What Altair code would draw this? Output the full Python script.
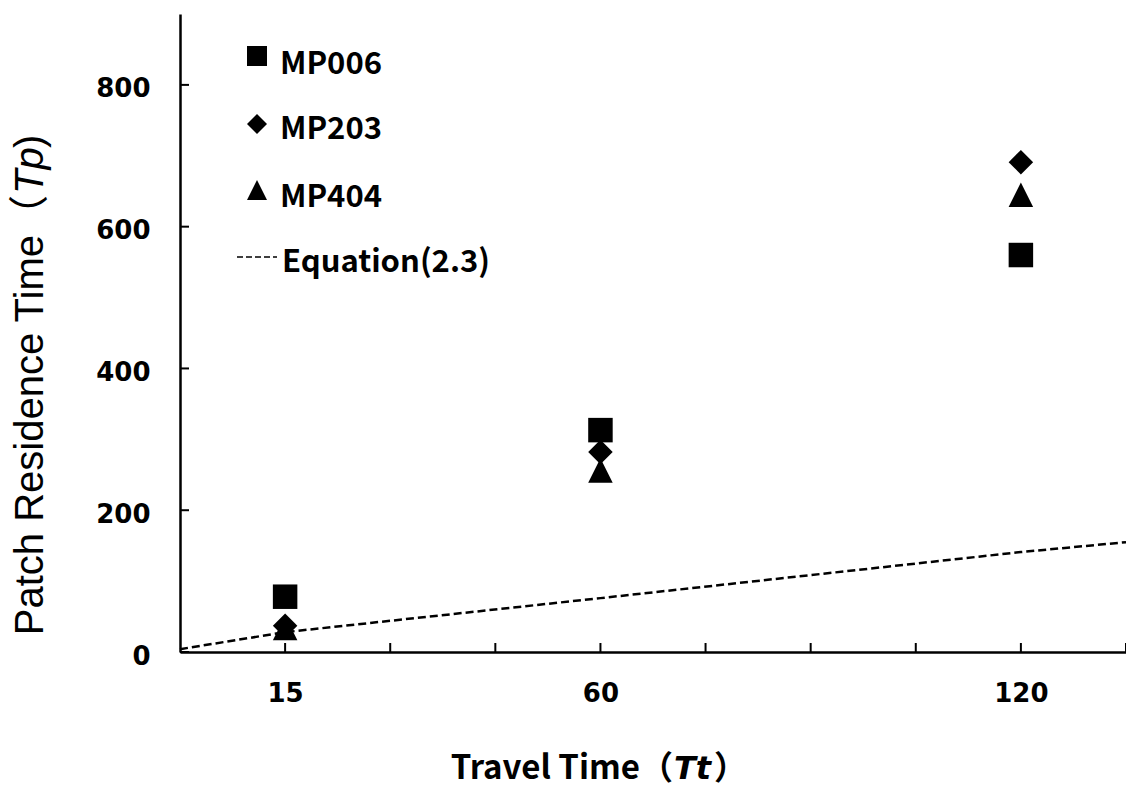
import altair as alt
import pandas as pd

# Travel time (Tt) settings and the mean patch residence time (Tp) of each subject
travel_time = [15, 60, 120]
series_names = ["MP006", "MP203", "MP404"]
tp_mp006 = [78, 313, 560]
tp_mp203 = [37, 282, 691]
tp_mp404 = [34, 256, 645]

# Prediction from Equation (2.3)
eq_tt = [0, 15, 60, 120, 135]
eq_tp = [4, 28, 76, 141, 155]

# Axis ticks
x_tick_values = [15, 30, 45, 60, 75, 90, 105, 120, 135]
x_label_values = [15, 60, 120]
y_tick_values = [0, 200, 400, 600, 800]

W, H = 946, 638
TRIANGLE = "M0,-1L1,1L-1,1Z"
shape_range = ["square", "diamond", TRIANGLE]

points = pd.DataFrame({
    "tt": travel_time * 3,
    "tp": tp_mp006 + tp_mp203 + tp_mp404,
    "series": [n for n in series_names for _ in travel_time],
})
equation = pd.DataFrame({"tt": eq_tt, "tp": eq_tp})

xs = alt.Scale(domain=[0, 135], nice=False, zero=True)
ys = alt.Scale(domain=[0, 900], nice=False, zero=True)

x_axis = alt.Axis(values=x_label_values, title=None, ticks=False, grid=False,
                  domainColor="black", domainWidth=2.5,
                  labelFont="DejaVu Sans", labelFontWeight="bold", labelFontSize=26,
                  labelColor="black", labelPadding=28, labelFlush=False)
y_axis = alt.Axis(values=y_tick_values, title=None, ticks=False, grid=False,
                  domainColor="black", domainWidth=2.5,
                  labelFont="DejaVu Sans", labelFontWeight="bold", labelFontSize=26,
                  labelColor="black", labelPadding=30, labelOffset=4)


def X(field):
    return alt.X(field, type="quantitative", scale=xs, axis=x_axis)


def Y(field):
    return alt.Y(field, type="quantitative", scale=ys, axis=y_axis)


pts = alt.Chart(points).mark_point(filled=True, size=600, opacity=1,
                                   strokeWidth=0, color="black").encode(
    x=X("tt"), y=Y("tp"),
    shape=alt.Shape("series:N", scale=alt.Scale(domain=series_names, range=shape_range),
                    legend=None),
)

eq_line = alt.Chart(equation).mark_line(color="black", strokeDash=[8, 4],
                                        strokeWidth=2.5).encode(x=X("tt"), y=Y("tp"))

# inward tick marks on both axes
x_ticks = alt.Chart(pd.DataFrame({"t": x_tick_values})).mark_rule(
    color="black", strokeWidth=2).encode(x=X("t"), y=alt.value(H), y2=alt.value(H - 9))
y_ticks = alt.Chart(pd.DataFrame({"t": y_tick_values})).mark_rule(
    color="black", strokeWidth=2).encode(y=Y("t"), x=alt.value(0), x2=alt.value(9))

one = pd.DataFrame({"k": [0]})


def text_layer(txt, x, y, **kw):
    return alt.Chart(one).mark_text(text=txt, color="black", **kw).encode(
        x=alt.value(x), y=alt.value(y))


# legend (inside the plot, upper left)
legend_layers = []
sym_y = [42, 110, 176]
lab_y = [60, 125, 193]
for name, shp, sy, ly in zip(series_names, shape_range, sym_y, lab_y):
    legend_layers.append(
        alt.Chart(one).mark_point(shape=shp, filled=True, size=400, strokeWidth=0,
                                  opacity=1, color="black").encode(
            x=alt.value(77), y=alt.value(sy)))
    legend_layers.append(
        text_layer(name, 100, ly, align="left", baseline="alphabetic",
                   font="Noto Sans CJK JP", fontWeight="bold", fontSize=31))
legend_layers.append(
    alt.Chart(one).mark_rule(color="black", strokeDash=[6, 3], strokeWidth=1.5).encode(
        x=alt.value(57), x2=alt.value(97), y=alt.value(243)))
legend_layers.append(
    text_layer("Equation(2.3)", 102, 258, align="left", baseline="alphabetic",
               font="Noto Sans CJK JP", fontWeight="bold", fontSize=31))

# axis titles with italic symbols
title_layers = [
    text_layer("Travel Time（", 493, 765, align="right", baseline="alphabetic",
               font="Noto Sans CJK JP", fontWeight="bold", fontSize=33),
    text_layer("Tt", 494, 765, align="left", baseline="alphabetic",
               font="DejaVu Sans", fontWeight="bold", fontStyle="italic", fontSize=32),
    text_layer("）", 534, 765, align="left", baseline="alphabetic",
               font="Noto Sans CJK JP", fontWeight="bold", fontSize=33),
    text_layer("Patch Residence Time（", -137, 181, align="right", baseline="alphabetic",
               angle=270, font="Liberation Sans, Noto Sans CJK JP", fontSize=40),
    text_layer("Tp", -137, 180, align="left", baseline="alphabetic", angle=270,
               font="Liberation Sans", fontStyle="italic", fontSize=40),
    text_layer(")", -137, 134, align="left", baseline="alphabetic", angle=270,
               font="Liberation Sans", fontSize=40),
]

chart = alt.layer(eq_line, x_ticks, y_ticks, pts, *legend_layers, *title_layers).properties(
    width=W, height=H,
    autosize=alt.AutoSizeParams(type="none"),
    padding={"left": 180, "top": 14, "right": 0, "bottom": 137},
    background="white",
).configure_view(stroke=None)

chart.save("out.html", embed_options={"renderer": "svg", "actions": False})
